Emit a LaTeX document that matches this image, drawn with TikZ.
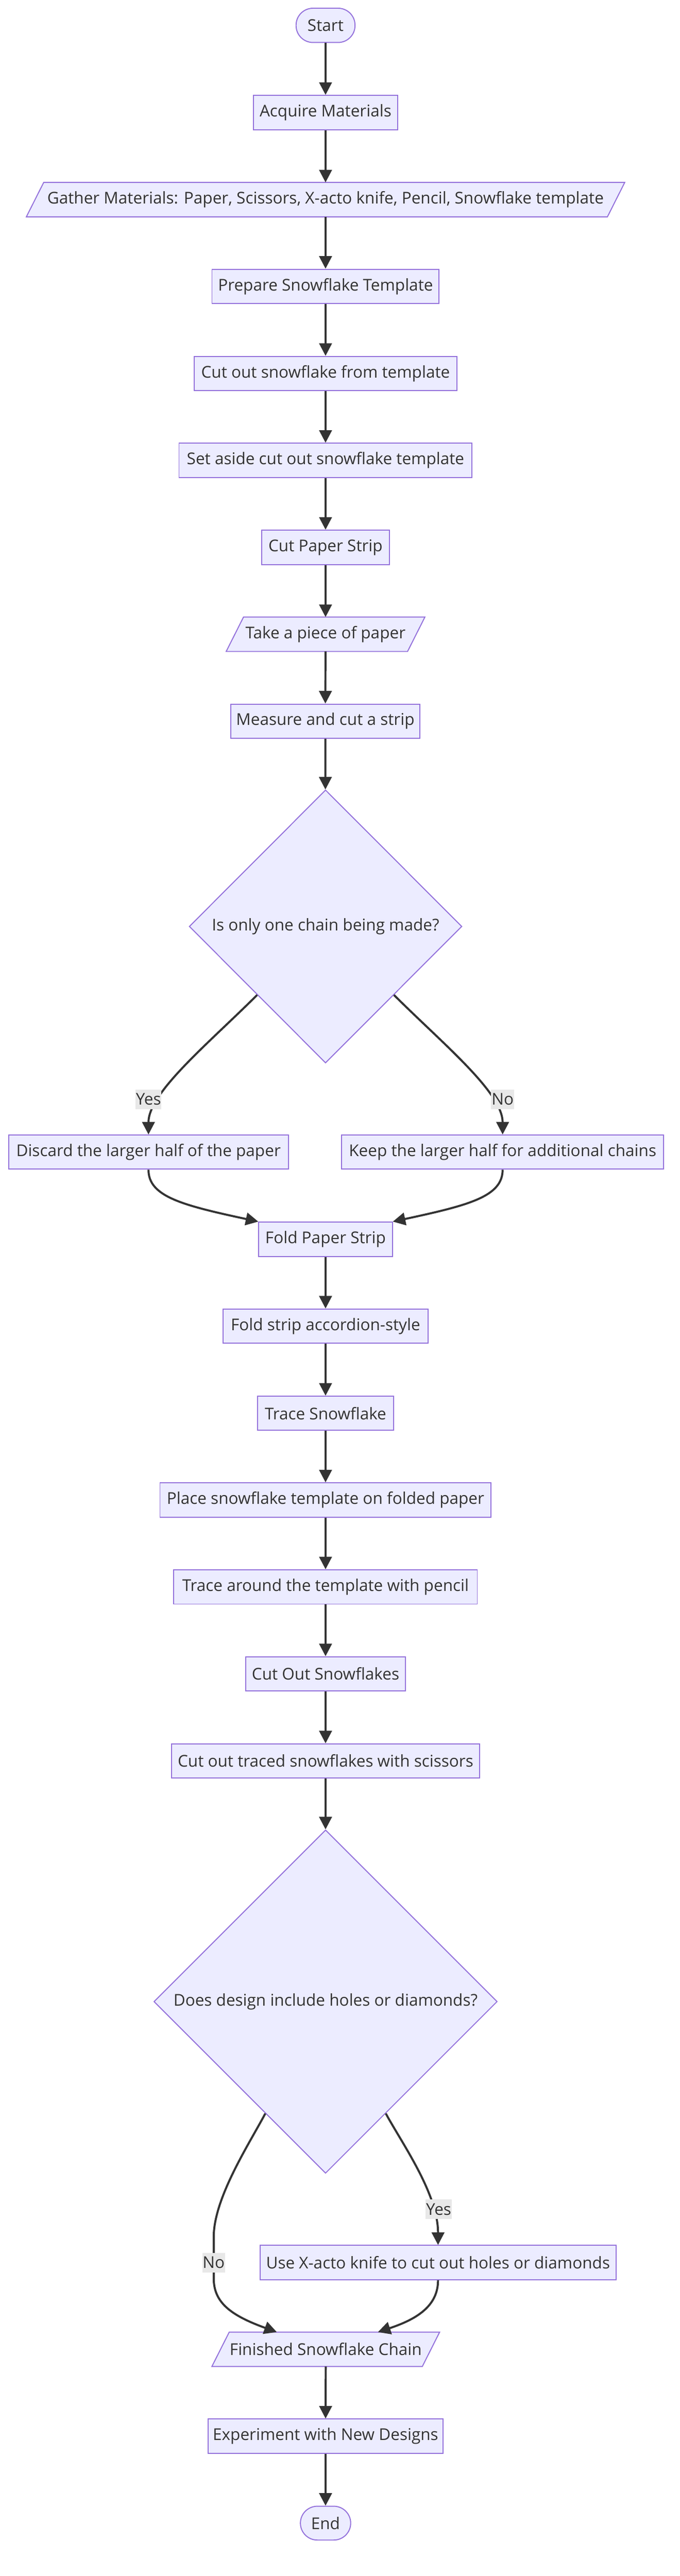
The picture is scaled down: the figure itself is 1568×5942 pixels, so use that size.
\documentclass[tikz,border=0pt]{standalone}
\usepackage{fontspec}
\setmainfont{Open Sans}
\usetikzlibrary{arrows.meta,shapes.geometric,calc,backgrounds}
\definecolor{nodefill}{HTML}{ECECFF}
\definecolor{nodeline}{HTML}{9370DB}
\definecolor{edgecol}{HTML}{333333}
\definecolor{textcol}{HTML}{333333}
\definecolor{lblbg}{HTML}{E8E8E8}
\newlength\calibw
\newcommand\drawpara[1]{%
  \path[parashape] ([xshift=40pt]#1.north west) -- (#1.north east) -- ([xshift=-40pt]#1.south east) -- (#1.south west) -- cycle;}
\begin{document}
\settowidth\calibw{\fontsize{10pt}{12pt}\selectfont Discard the larger half of the paperUse X-acto knife to cut out holes or diamondsGather Materials: Paper, Scissors, X-acto knife, Pencil, Snowflake template}%
\pgfmathsetmacro\fs{2687/\calibw*10}%
\pgfmathsetmacro\fsl{1.2*\fs}%
\begin{tikzpicture}[x=1pt,y=-1pt]
\tikzset{
  txt/.style={font=\fontsize{\fs pt}{\fsl pt}\selectfont, text=textcol},
  box/.style={rectangle, draw=nodeline, fill=nodefill, line width=2.3pt, minimum height=79pt, inner sep=0pt, txt},
  stad/.style={box, rounded corners=39pt},
  para/.style={rectangle, inner sep=0pt, minimum height=79pt, txt},
  parashape/.style={draw=nodeline, fill=nodefill, line width=2.3pt, line join=miter},
  dia/.style={diamond, draw=nodeline, fill=nodefill, line width=2.3pt, inner sep=0pt, txt},
  arr/.style={draw=edgecol, line width=4.7pt, -{Triangle[length=29pt,width=29pt]}},
  lbl/.style={fill=lblbg, inner xsep=1pt, inner ysep=0pt, minimum height=45pt, txt}
}
\useasboundingbox (0,0) rectangle (1568,5942);
\begin{scope}[on background layer]
\fill[white] (0,0) rectangle (1568,5942);
\end{scope}

% nodes
\node[stad, minimum width=136pt] (startn) at (751,58.5) {Start};
\node[box, minimum width=332pt] (acq) at (751,259.5) {Acquire Materials};
\node[para, minimum width=1380pt] (gather) at (751,460.5) {Gather Materials: Paper, Scissors, X-acto knife, Pencil, Snowflake template};
\node[box, minimum width=524pt] (prep) at (751,660.5) {Prepare Snowflake Template};
\node[box, minimum width=606pt] (cutt) at (751,861.5) {Cut out snowflake from template};
\node[box, minimum width=676pt] (aside) at (751,1062) {Set aside cut out snowflake template};
\node[box, minimum width=294pt] (cps) at (751,1262.5) {Cut Paper Strip};
\node[para, minimum width=458pt] (take) at (751,1463) {Take a piece of paper};
\node[box, minimum width=437pt] (meas) at (750.5,1663.5) {Measure and cut a strip};
\node[dia, minimum width=629pt, minimum height=630pt] (d1) at (751,2137) {Is only one chain being made?};
\node[box, minimum width=645pt] (disc) at (342.5,2657.5) {Discard the larger half of the paper};
\node[box, minimum width=743pt] (keep) at (1159.5,2657.5) {Keep the larger half for additional chains};
\node[box, minimum width=308pt] (fold) at (751,2858.5) {Fold Paper Strip};
\node[box, minimum width=472pt] (acc) at (751,3059) {Fold strip accordion-style};
\node[box, minimum width=314pt] (trace) at (751,3260) {Trace Snowflake};
\node[box, minimum width=764pt] (place) at (751,3460) {Place snowflake template on folded paper};
\node[box, minimum width=700pt] (around) at (751,3660.5) {Trace around the template with pencil};
\node[box, minimum width=368pt] (cos) at (751,3861) {Cut Out Snowflakes};
\node[box, minimum width=710pt] (ctr) at (751,4062) {Cut out traced snowflakes with scissors};
\node[dia, minimum width=792pt, minimum height=792pt] (d2) at (751,4617) {Does design include holes or diamonds?};
\node[box, minimum width=821pt] (usex) at (1010.5,5219) {Use X-acto knife to cut out holes or diamonds};
\node[para, minimum width=525pt] (fin) at (751.5,5419) {Finished Snowflake Chain};
\node[box, minimum width=542pt] (expn) at (751,5619.5) {Experiment with New Designs};
\node[stad, minimum width=116pt, minimum height=78pt] (endn) at (751,5820) {End};

\begin{scope}[on background layer]
\drawpara{gather}
\drawpara{take}
\drawpara{fin}
\end{scope}

% helper coordinates on borders
\coordinate (d1l) at ($(d1.west)!0.5!(d1.south)$);
\coordinate (d1r) at ($(d1.east)!0.5!(d1.south)$);
\coordinate (d2l) at ($(d2.west)!0.65!(d2.south)$);
\coordinate (d2r) at ($(d2.east)!0.65!(d2.south)$);
\coordinate (finl) at ($(fin.north west)!0.285!(fin.north east)$);
\coordinate (finr) at ($(fin.north west)!0.729!(fin.north east)$);

% straight edges
\draw[arr] (startn) -- (acq);
\draw[arr] (acq) -- (gather);
\draw[arr] (gather) -- (prep);
\draw[arr] (prep) -- (cutt);
\draw[arr] (cutt) -- (aside);
\draw[arr] (aside) -- (cps);
\draw[arr] (cps) -- (take);
\draw[arr] (take) -- (meas);
\draw[arr] (meas) -- (d1);
\draw[arr] (fold) -- (acc);
\draw[arr] (acc) -- (trace);
\draw[arr] (trace) -- (place);
\draw[arr] (place) -- (around);
\draw[arr] (around) -- (cos);
\draw[arr] (cos) -- (ctr);
\draw[arr] (ctr) -- (d2);
\draw[arr] (fin) -- (expn);
\draw[arr] (expn) -- (endn);

% curved edges
\draw[arr] (d1l) .. controls (480,2408) and (342.5,2520) .. (disc.north);
\draw[arr] (d1r) .. controls (1022,2408) and (1159.5,2520) .. (keep.north);
\draw[arr] (disc.south) .. controls (342.5,2760) and (420,2780) .. (fold.north west);
\draw[arr] (keep.south) .. controls (1159.5,2760) and (1082,2780) .. (fold.north east);
\draw[arr] (d2l) .. controls (575,4945) and (493,5070) .. (493,5160) -- (493,5255) .. controls (493,5310) and (530,5340) .. (finl);
\draw[arr] (d2r) .. controls (928,4945) and (1010.5,5060) .. (usex.north);
\draw[arr] (usex.south) .. controls (1010.5,5320) and (960,5350) .. (finr);

% edge labels
\node[lbl] (yes1) at (342.5,2535.5) {Yes};
\node[lbl] (no1) at (1159.5,2535.5) {No};
\node[lbl] (yes2) at (1012,5096) {Yes};
\node[lbl] (no2) at (493,5219) {No};
\end{tikzpicture}
\end{document}
